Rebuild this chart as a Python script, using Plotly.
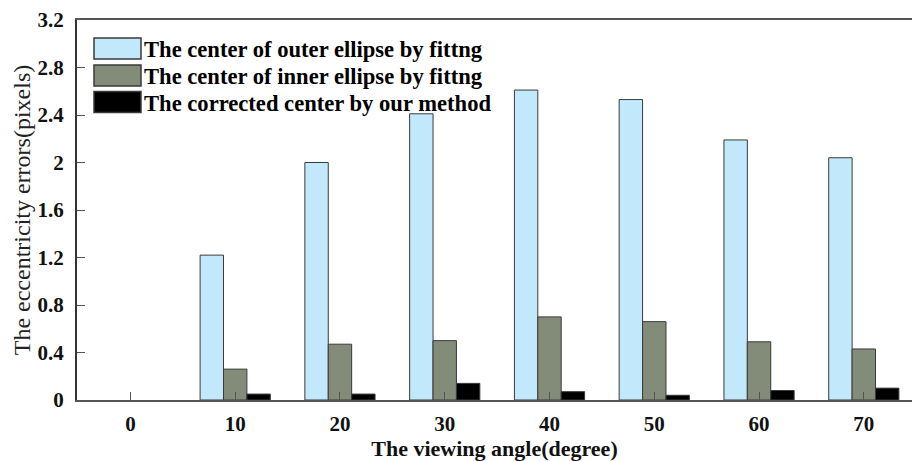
import plotly.graph_objects as go

# Viewing angles (degrees) and eccentricity errors (pixels)
angles = ["0", "10", "20", "30", "40", "50", "60", "70"]
outer_fit = [0, 1.22, 2.00, 2.41, 2.61, 2.53, 2.19, 2.04]
inner_fit = [0, 0.26, 0.47, 0.50, 0.70, 0.66, 0.49, 0.43]
corrected = [0, 0.05, 0.05, 0.14, 0.07, 0.04, 0.08, 0.10]

series_names = [
    "The center of outer ellipse by fittng",
    "The center of inner ellipse by fittng",
    "The corrected center by our method",
]
series_colors = ["#C2E8FC", "#838C79", "#000000"]
y_ticks = [0, 0.4, 0.8, 1.2, 1.6, 2, 2.4, 2.8, 3.2]
y_tick_text = ["0", "0.4", "0.8", "1.2", "1.6", "2", "2.4", "2.8", "3.2"]

W, H = 912, 461
ML, MR, MT, MB = 77, 0, 20, 61
FONT = "Liberation Serif"

fig = go.Figure()
for name, vals, col in zip(series_names, [outer_fit, inner_fit, corrected], series_colors):
    # zero-valued bars get no outline so nothing is drawn for them
    fig.add_trace(go.Bar(
        x=angles, y=vals, name=name,
        marker=dict(color=col,
                    line=dict(color="#3a3a3a", width=[0 if v == 0 else 1 for v in vals])),
        showlegend=False,
    ))

# Hand-built legend with large swatches (pixel positions converted to paper coords)
pw, ph = W - ML - MR, H - MT - MB
def px(x):
    return (x - ML) / pw
def py(y):
    return (H - MB - y) / ph

row_top = [38, 65, 91.5]
sw_h = 21
for i, (name, col) in enumerate(zip(series_names, series_colors)):
    t = row_top[i]
    fig.add_shape(type="rect", xref="paper", yref="paper",
                  x0=px(94), x1=px(141), y0=py(t + sw_h), y1=py(t),
                  fillcolor=col, line=dict(color="#3a3a3a", width=1.5))
    fig.add_annotation(xref="paper", yref="paper", x=px(142), y=py(t + sw_h / 2 + 1),
                       text=name, showarrow=False, xanchor="left", yanchor="middle",
                       font=dict(family=FONT, size=22.6, color="#000", weight="bold"))

fig.update_layout(
    width=W, height=H,
    margin=dict(l=ML, r=MR, t=MT, b=MB),
    paper_bgcolor="white", plot_bgcolor="white",
    barmode="group", bargap=0.33, bargroupgap=0,
    font=dict(family=FONT, size=20, color="#111"),
)
fig.update_xaxes(
    type="category", range=[-0.51, 7.46],
    showline=True, linecolor="#555", linewidth=2, mirror=True,
    ticks="inside", ticklen=8, tickcolor="#555", tickwidth=1,
    tickfont=dict(family=FONT, size=21, color="#111", weight="bold"),
    ticklabelstandoff=4,
    showgrid=False, zeroline=False,
    title=dict(text="The viewing angle(degree)", standoff=6,
               font=dict(family=FONT, size=22, color="#111", weight="bold")),
)
fig.update_yaxes(
    range=[0, 3.2], tickvals=y_ticks, ticktext=y_tick_text,
    showline=True, linecolor="#333", linewidth=2,
    ticks="inside", ticklen=8, tickcolor="#555", tickwidth=1,
    tickfont=dict(family=FONT, size=21, color="#111", weight="bold"),
    ticklabelstandoff=7,
    showgrid=False, zeroline=False,
    title=dict(text="The eccentricity errors(pixels)", standoff=0,
               font=dict(family=FONT, size=24, color="#222")),
)

fig.write_html("out.html")
